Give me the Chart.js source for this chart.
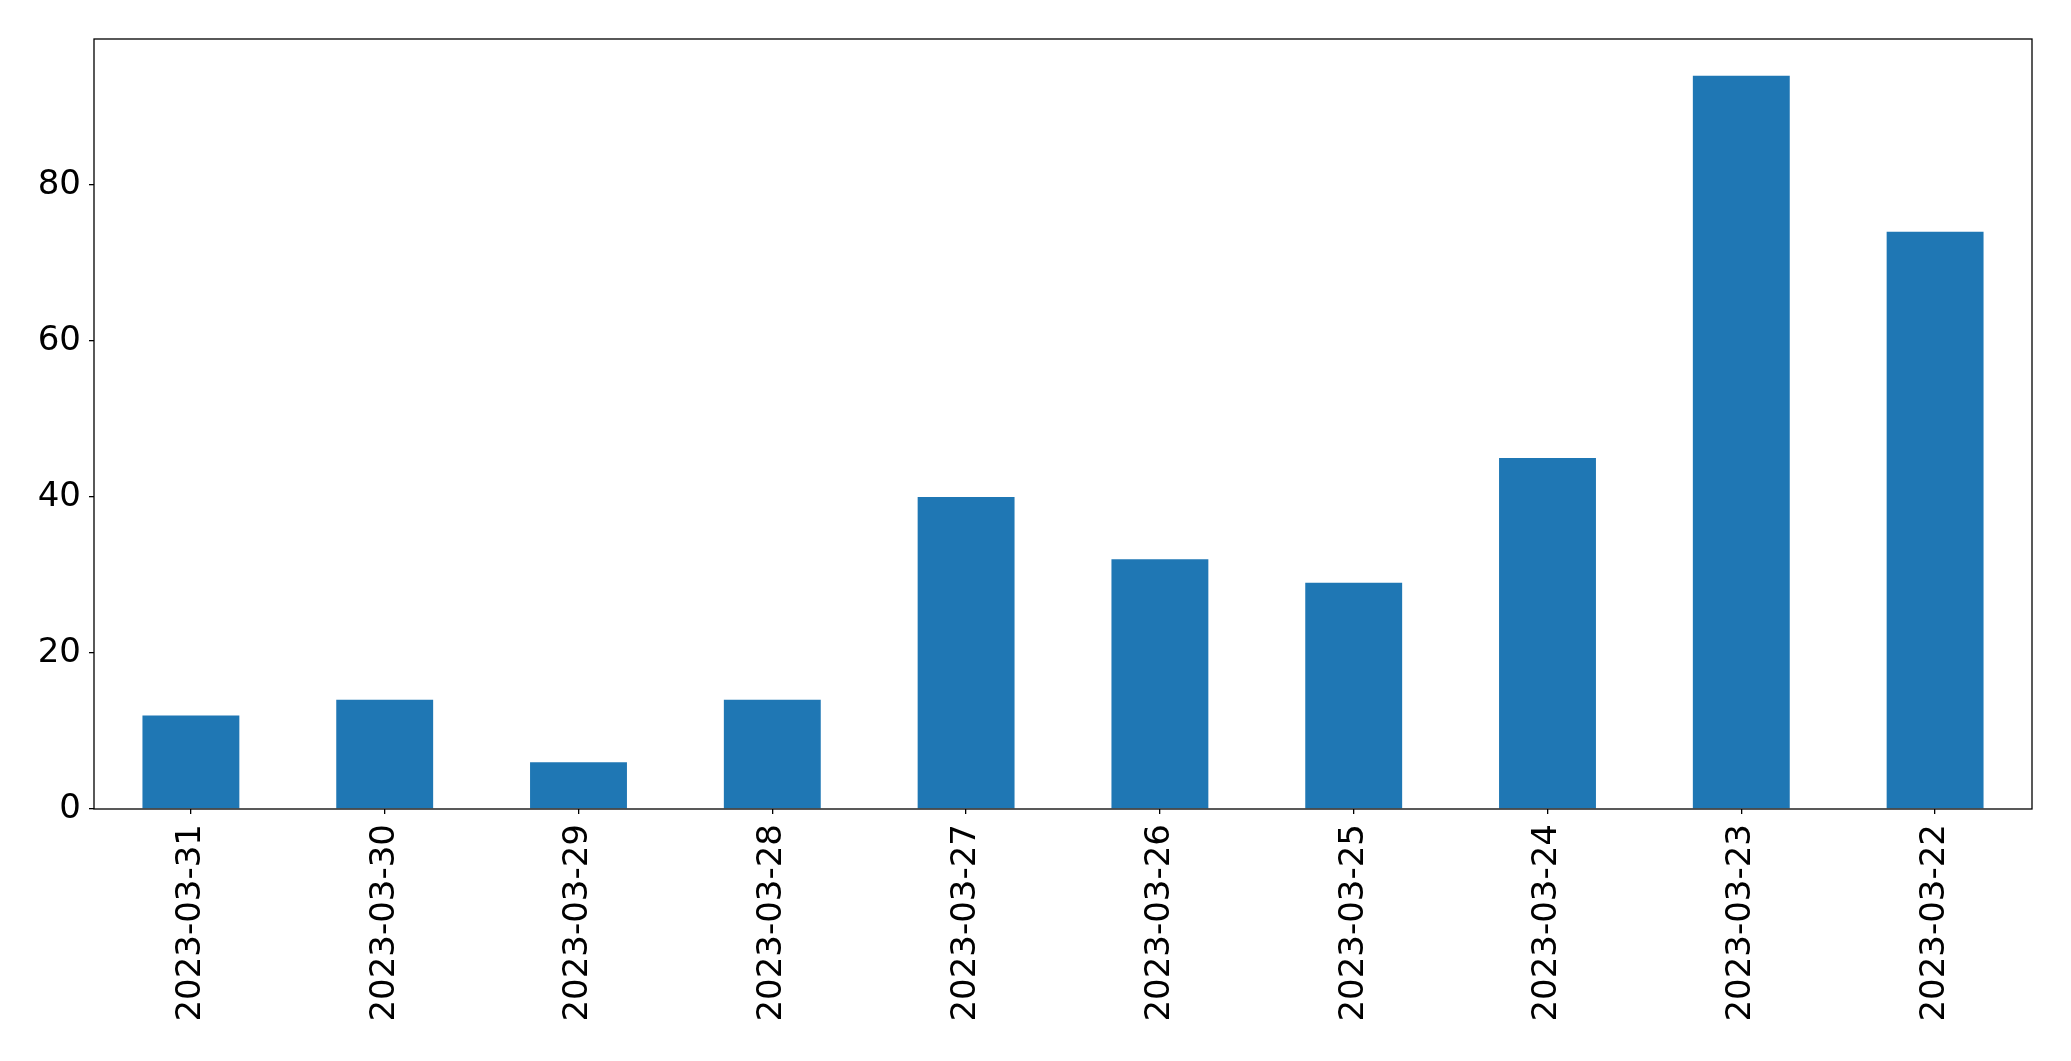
<!DOCTYPE html>
<html>
<head>
<meta charset="utf-8">
<script src="https://cdn.jsdelivr.net/npm/chart.js@4"></script>
<style>
  html, body { margin: 0; padding: 0; background: #fff; }
  canvas { display: block; }
</style>
</head>
<body>
<canvas id="bar-chart" width="2071" height="1061"></canvas>
<script>
// data
const dates = ['2023-03-31', '2023-03-30', '2023-03-29', '2023-03-28', '2023-03-27',
    '2023-03-26', '2023-03-25', '2023-03-24', '2023-03-23', '2023-03-22'];
const counts = [12, 14, 6, 14, 40, 32, 29, 45, 94, 74];
const yTicks = [0, 20, 40, 60, 80];
const yMax = 98.7;

// box around the plot area, like matplotlib's spines
const frame = {
    id: 'frame',
    afterDraw(chart) {
        let a = chart.chartArea;
        let ctx = chart.ctx;
        ctx.save();
        ctx.strokeStyle = '#000';
        ctx.lineWidth = 1.3;
        ctx.strokeRect(a.left, a.top, a.right - a.left, a.bottom - a.top);
        ctx.restore();
    }
};

const tickFont = { family: 'DejaVu Sans', size: 34 };

let ctx = document.getElementById('bar-chart');
let chart = new Chart(ctx, {
    type: 'bar',
    data: {
        labels: dates,
        datasets: [{
            data: counts,
            backgroundColor: '#1f77b4',
            borderWidth: 0,
            barPercentage: 0.5,
            categoryPercentage: 1.0
        }]
    },
    options: {
        responsive: false,
        animation: false,
        devicePixelRatio: 1,
        layout: { padding: { top: 39, right: 39, left: 0, bottom: 0 } },
        plugins: {
            legend: { display: false },
            tooltip: { enabled: false }
        },
        scales: {
            x: {
                offset: true,
                border: { display: false },
                grid: { display: true, drawOnChartArea: false, drawTicks: true, tickLength: 5, color: '#000', lineWidth: 1.3, offset: false },
                ticks: { color: '#000', font: tickFont, maxRotation: 90, minRotation: 90, padding: 10, autoSkip: false },
                afterFit(scale) { scale.height = 252; }
            },
            y: {
                min: 0,
                max: yMax,
                border: { display: false },
                grid: { display: true, drawOnChartArea: false, drawTicks: true, tickLength: 5, color: '#000', lineWidth: 1.3 },
                afterBuildTicks(scale) { scale.ticks = yTicks.map(v => ({ value: v })); },
                ticks: { color: '#000', font: tickFont, padding: 8 },
                afterFit(scale) { scale.width = 94; }
            }
        }
    },
    plugins: [frame]
});
</script>
</body>
</html>
